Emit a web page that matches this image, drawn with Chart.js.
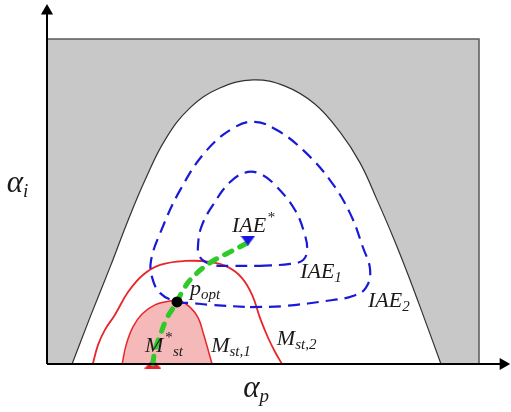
<!DOCTYPE html>
<html>
<head>
<meta charset="utf-8">
<script src="https://cdn.jsdelivr.net/npm/chart.js@4.4.1/dist/chart.umd.min.js"></script>
<style>
  html, body { margin: 0; padding: 0; background: #ffffff; }
  #wrap { width: 511px; height: 412px; position: relative; }
</style>
</head>
<body>
<div id="wrap"><canvas id="c"></canvas></div>
<script>
// ---- data (α_p on x, α_i on y, arbitrary units) ----
const regionX = [0, 0, 10, 10];
const regionY = [0, 10, 10, 0];

const boundaryX = [0.58, 1.00, 1.46, 1.88, 2.27, 2.73, 3.31, 4.00, 4.77, 5.51, 6.20, 6.78, 7.25, 7.64, 8.01, 8.36, 8.73, 9.12];
const boundaryY = [0.00, 1.45, 2.98, 4.43, 5.66, 6.89, 7.88, 8.49, 8.74, 8.55, 8.00, 7.14, 6.18, 5.05, 3.91, 2.74, 1.42, 0.00];

const iae2X = [4.70, 5.46, 6.62, 7.08, 7.38, 7.48, 7.31, 7.01, 6.55, 5.93, 5.32, 4.81, 4.35, 3.70, 3.08, 2.62, 2.41, 2.43, 2.62, 3.01, 3.31, 3.77, 4.70];
const iae2Y = [1.75, 1.78, 1.97, 2.09, 2.34, 2.89, 3.60, 4.65, 5.66, 6.58, 7.20, 7.45, 7.29, 6.58, 5.35, 4.03, 3.20, 2.68, 2.18, 1.91, 1.88, 1.82, 1.75];

const iae1X = [4.93, 5.63, 5.93, 6.02, 5.97, 5.74, 5.32, 4.98, 4.65, 4.24, 3.84, 3.59, 3.50, 3.54, 3.84, 4.24, 4.93];
const iae1Y = [3.02, 3.08, 3.20, 3.51, 3.97, 4.74, 5.45, 5.82, 5.91, 5.60, 4.89, 4.28, 3.72, 3.29, 3.05, 3.02, 3.02];

const mst1X = [1.74, 1.83, 1.99, 2.20, 2.50, 2.85, 3.08, 3.31, 3.50, 3.63, 3.73, 3.82];
const mst1Y = [0.00, 0.58, 1.14, 1.54, 1.82, 1.94, 1.94, 1.75, 1.42, 0.89, 0.43, 0.00];

const mst2X = [1.06, 1.18, 1.34, 1.57, 1.88, 2.22, 2.62, 3.19, 3.77, 4.19, 4.51, 4.75, 4.93, 5.12, 5.28, 5.44];
const mst2Y = [0.00, 0.58, 1.05, 1.51, 2.22, 2.74, 3.05, 3.17, 3.14, 2.98, 2.65, 2.12, 1.42, 0.80, 0.37, 0.00];

const pathX = [2.45, 2.50, 2.62, 2.78, 3.01, 3.15, 3.38, 3.77, 4.24, 4.63];
const pathY = [0.00, 0.43, 0.89, 1.42, 1.91, 2.28, 2.68, 3.11, 3.45, 3.72];

const mStarPoint = [2.45, 0.0];
const iaeStarPoint = [4.65, 3.80];
const pOptPoint = [3.01, 1.91];

const axisEnd = [10.56, 10.86];

// labels: main text, superscript, subscript, anchor x, anchor y
const labelMain = ['IAE', 'IAE', 'IAE', 'p', 'M', 'M', 'M'];
const labelSup  = ['*',   '',    '',    '',  '*', '',  ''];
const labelSub  = ['',    '1',   '2',   'opt', 'st', 'st,1', 'st,2'];
const labelX    = [4.28, 5.86, 7.43, 3.31, 2.27, 3.80, 5.32];
const labelY    = [4.06, 2.65, 1.75, 2.12, 0.37, 0.37, 0.58];

const axisTitleMain = ['α', 'α'];
const axisTitleSub  = ['i', 'p'];
const axisTitleX    = [-0.93, 4.54];
const axisTitleY    = [5.29, -1.02];

// ---- helpers ----
const zip = (xs, ys) => xs.map((v, i) => ({ x: v, y: ys[i] }));

function triCanvas(w, h, color, down) {
  const c = document.createElement('canvas');
  c.width = w; c.height = h;
  const g = c.getContext('2d');
  g.fillStyle = color;
  g.beginPath();
  if (down) { g.moveTo(0, 0); g.lineTo(w, 0); g.lineTo(w / 2, h); }
  else { g.moveTo(w / 2, 0); g.lineTo(w, h); g.lineTo(0, h); }
  g.closePath();
  g.fill();
  return c;
}

const labelPlugin = {
  id: 'richLabels',
  afterDatasetsDraw(chart) {
    const { ctx } = chart;
    const xs = chart.scales.x, ys = chart.scales.y;
    const font = (s) => `italic ${s}px "Liberation Serif", "DejaVu Serif", serif`;
    ctx.save();
    ctx.fillStyle = '#1a1a1a';
    ctx.textAlign = 'left';
    ctx.textBaseline = 'alphabetic';
    labelMain.forEach((m, i) => {
      const px = xs.getPixelForValue(labelX[i]);
      const py = ys.getPixelForValue(labelY[i]);
      const size = 22;
      ctx.font = font(size);
      ctx.fillText(m, px, py);
      let cx = px + ctx.measureText(m).width;
      let subX = cx;
      if (labelSup[i]) {
        ctx.font = font(15);
        ctx.fillText(labelSup[i], cx + 1, py - 10);
        subX = cx + ctx.measureText(labelSup[i]).width + 2;
      }
      if (labelSub[i]) {
        ctx.font = font(15);
        ctx.fillText(labelSub[i], subX, py + 4);
      }
    });
    axisTitleMain.forEach((m, i) => {
      const px = xs.getPixelForValue(axisTitleX[i]);
      const py = ys.getPixelForValue(axisTitleY[i]);
      ctx.font = font(31);
      ctx.fillText(m, px, py);
      const w = ctx.measureText(m).width;
      ctx.font = font(19);
      ctx.fillText(axisTitleSub[i], px + w, py + 5);
    });
    ctx.restore();
  }
};

const lineBase = { showLine: true, pointRadius: 0, pointHoverRadius: 0, fill: false, clip: false };

const data = {
  datasets: [
    { ...lineBase, order: 10, data: zip(regionX, regionY), borderColor: '#5a5a5a', borderWidth: 1.5,
      backgroundColor: '#c8c8c8', fill: 'origin', tension: 0 },
    { ...lineBase, order: 9, data: zip(boundaryX, boundaryY), borderColor: '#333333', borderWidth: 1.2,
      backgroundColor: '#ffffff', fill: 'origin', tension: 0.4 },
    { ...lineBase, order: 8, data: zip(mst1X, mst1Y), borderColor: '#e8262a', borderWidth: 1.5,
      backgroundColor: '#f6b9b9', fill: 'origin', tension: 0.4 },
    { ...lineBase, order: 7, data: zip(mst2X, mst2Y), borderColor: '#e8262a', borderWidth: 1.8, tension: 0.4 },
    { ...lineBase, order: 6, data: zip(iae2X, iae2Y), borderColor: '#1a1ad6', borderWidth: 2.2,
      borderDash: [12, 7], tension: 0.4 },
    { ...lineBase, order: 5, data: zip(iae1X, iae1Y), borderColor: '#1a1ad6', borderWidth: 2.2,
      borderDash: [12, 7], tension: 0.4 },
    { ...lineBase, order: 3, data: zip(pathX, pathY), borderColor: '#2dca2a', borderWidth: 5,
      borderDash: [8, 9], borderCapStyle: 'round', tension: 0.4 },
    { showLine: false, order: 4, clip: false, data: [{ x: mStarPoint[0], y: mStarPoint[1] }],
      pointStyle: triCanvas(17, 9, '#e8202a', false), pointRadius: 8 },
    { showLine: false, order: 2, clip: false, data: [{ x: iaeStarPoint[0], y: iaeStarPoint[1] }],
      pointStyle: triCanvas(15, 10, '#1616e0', true), pointRadius: 8 },
    { showLine: false, order: 1, clip: false, data: [{ x: pOptPoint[0], y: pOptPoint[1] }],
      pointStyle: 'circle', pointRadius: 5.5, backgroundColor: '#000000', borderColor: '#000000', borderWidth: 0 },
    // axes
    { ...lineBase, order: 0, data: [{ x: 0, y: 0 }, { x: 0, y: axisEnd[1] }], borderColor: '#000000', borderWidth: 2, tension: 0 },
    { ...lineBase, order: 0, data: [{ x: 0, y: 0 }, { x: axisEnd[0], y: 0 }], borderColor: '#000000', borderWidth: 2, tension: 0 },
    { showLine: false, order: 0, clip: false, data: [{ x: 0, y: axisEnd[1] }],
      pointStyle: 'triangle', pointRadius: 7, backgroundColor: '#000000', borderColor: '#000000', borderWidth: 0 },
    { showLine: false, order: 0, clip: false, data: [{ x: axisEnd[0], y: 0 }],
      pointStyle: 'triangle', pointRotation: 90, pointRadius: 7, backgroundColor: '#000000', borderColor: '#000000', borderWidth: 0 }
  ]
};

new Chart(document.getElementById('c'), {
  type: 'scatter',
  data,
  options: {
    responsive: true,
    maintainAspectRatio: false,
    animation: false,
    events: [],
    layout: { autoPadding: false, padding: { left: 47, right: 0, top: 0, bottom: 48 } },
    plugins: { legend: { display: false }, tooltip: { enabled: false } },
    scales: {
      x: { type: 'linear', min: 0, max: 464 / 43.2, display: false },
      y: { type: 'linear', min: 0, max: 364 / 32.5, display: false }
    }
  },
  plugins: [labelPlugin]
});
</script>
</body>
</html>
